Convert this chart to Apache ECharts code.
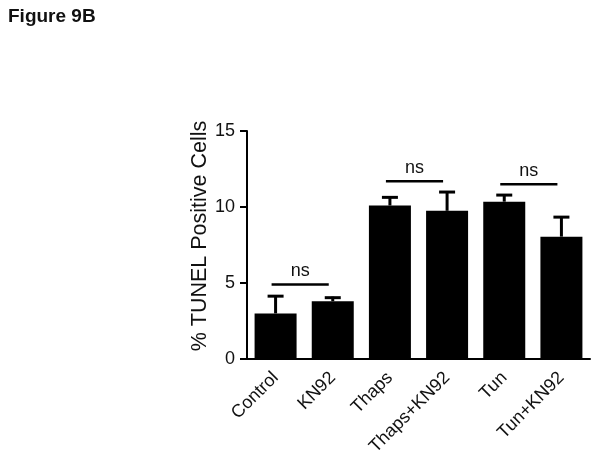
<!DOCTYPE html>
<html>
<head>
<meta charset="utf-8">
<script src="https://cdn.jsdelivr.net/npm/echarts@6/dist/echarts.min.js"></script>
<style>
html,body{margin:0;padding:0;background:#fff;}
#chart{width:602px;height:462px;}
</style>
</head>
<body>
<div id="chart"></div>
<script>
const categories = ['Control', 'KN92', 'Thaps', 'Thaps+KN92', 'Tun', 'Tun+KN92'];
const means = [3.0, 3.8, 10.1, 9.75, 10.35, 8.05];
const errTop = [4.2, 4.1, 10.7, 11.05, 10.85, 9.4];
const brackets = [[0, 1, 4.9], [2, 3, 11.7], [4, 5, 11.5]];
const bracketLabels = ['ns', 'ns', 'ns'];
const yTicks = [0, 5, 10, 15];

const FONT = 'Liberation Sans, Arial, sans-serif';
const chart = echarts.init(document.getElementById('chart'), null, {renderer: 'canvas'});

const errData = categories.map((c, i) => [i, means[i], errTop[i]]);
const brData = brackets.map((b, i) => [b[0], b[1], b[2], bracketLabels[i]]);

chart.setOption({
  animation: false,
  backgroundColor: '#fff',
  title: {
    text: 'Figure 9B', left: 8, top: 7, padding: 0,
    textStyle: {fontFamily: FONT, fontSize: 19, fontWeight: 'bold', color: '#111'}
  },
  grid: {left: 247, right: 12, top: 131, bottom: 103},
  xAxis: {
    type: 'category', data: categories,
    axisLine: {lineStyle: {color: '#000', width: 2}},
    axisTick: {alignWithLabel: true, length: 7, lineStyle: {color: '#000', width: 2}},
    axisLabel: {rotate: 45, margin: 16, fontFamily: FONT, fontSize: 18, color: '#111', interval: 0}
  },
  yAxis: {
    type: 'value', min: 0, max: 15, interval: 5,
    name: '% TUNEL Positive Cells', nameLocation: 'middle', nameGap: 36, nameMoveOverlap: false,
    nameTextStyle: {fontFamily: FONT, fontSize: 21.5, color: '#111', padding: [0, 0, 0, 18]},
    axisLine: {show: true, lineStyle: {color: '#000', width: 2}},
    axisTick: {show: true, length: 7, lineStyle: {color: '#000', width: 2}},
    splitLine: {show: false},
    axisLabel: {margin: 12, fontFamily: FONT, fontSize: 18, color: '#111',
      formatter: v => yTicks.indexOf(v) >= 0 ? String(v) : ''}
  },
  series: [
    {
      type: 'bar', data: means, barWidth: 42,
      itemStyle: {color: '#000'}, z: 2
    },
    {
      type: 'custom', data: errData, z: 3,
      renderItem: function (params, api) {
        const x = api.value(0);
        const p0 = api.coord([x, api.value(1)]);
        const p1 = api.coord([x, api.value(2)]);
        const hw = 8;
        return {
          type: 'group',
          children: [
            {type: 'line', shape: {x1: p0[0], y1: p0[1], x2: p1[0], y2: p1[1] }, style: {stroke: '#000', lineWidth: 3}},
            {type: 'line', shape: {x1: p1[0] - hw, y1: p1[1] + 1, x2: p1[0] + hw, y2: p1[1] + 1}, style: {stroke: '#000', lineWidth: 3}}
          ]
        };
      }
    },
    {
      type: 'custom', data: brData, z: 4,
      renderItem: function (params, api) {
        const a = api.coord([api.value(0), api.value(2)]);
        const b = api.coord([api.value(1), api.value(2)]);
        const x1 = a[0] - 4, x2 = b[0] - 4, y = a[1];
        return {
          type: 'group',
          children: [
            {type: 'line', shape: {x1: x1, y1: y, x2: x2, y2: y}, style: {stroke: '#000', lineWidth: 2.5}},
            {type: 'text', style: {text: brData[params.dataIndex][3], x: (x1 + x2) / 2, y: y - 4,
              textAlign: 'center', textVerticalAlign: 'bottom', font: '18px ' + FONT, fill: '#111'}}
          ]
        };
      }
    }
  ]
});
</script>
</body>
</html>
